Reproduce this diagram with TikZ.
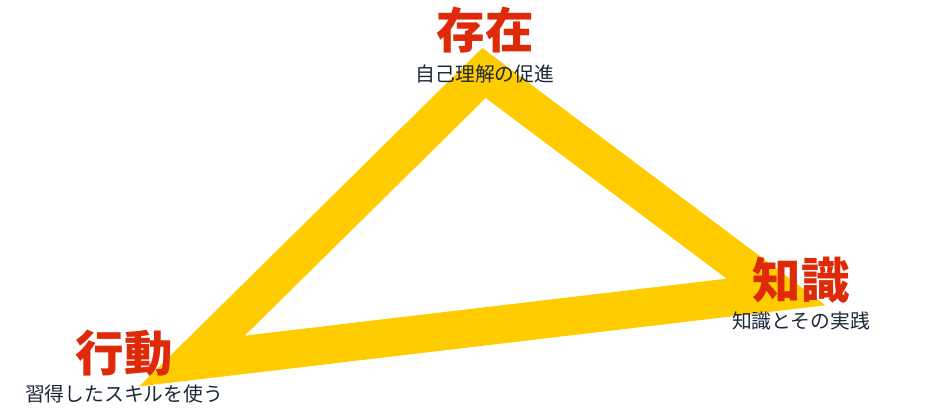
\documentclass[tikz,border=0pt]{standalone}
\usepackage{fontspec}
\newfontfamily\cjk{Noto Sans CJK JP}
\definecolor{myyellow}{RGB}{255,204,0}
\definecolor{myred}{RGB}{222,42,8}
\definecolor{mynavy}{RGB}{28,40,58}
\begin{document}
\begin{tikzpicture}[x=1pt, y=-1pt,
                line join=miter,
                title/.style={font=\cjk\bfseries\fontsize{48.5}{48.5}\selectfont, text=myred, inner sep=0pt},
                sub/.style={font=\cjk\fontsize{19.8}{19.8}\selectfont, text=mynavy, inner sep=0pt}]
                \useasboundingbox (0,0) rectangle (950,410);

                % corners of the triangle
                \coordinate (top) at (484,73);
                \coordinate (left) at (192,361);
                \coordinate (right) at (776,292);

                % thick triangle
                \draw[myyellow, line width=38pt, miter limit=10] (top) -- (right) -- (left) -- cycle;

                % labels
                \node[title] (being) at (485,30) {存在};
                \node[sub] (beingsub) at (485,74) {自己理解の促進};
                \node[title] (knowledge) at (801,280) {知識};
                \node[sub] (knowledgesub) at (801,321) {知識とその実践};
                \node[title] (action) at (124,353) {行動};
                \node[sub] (actionsub) at (124,394) {習得したスキルを使う};

\end{tikzpicture}
\end{document}
